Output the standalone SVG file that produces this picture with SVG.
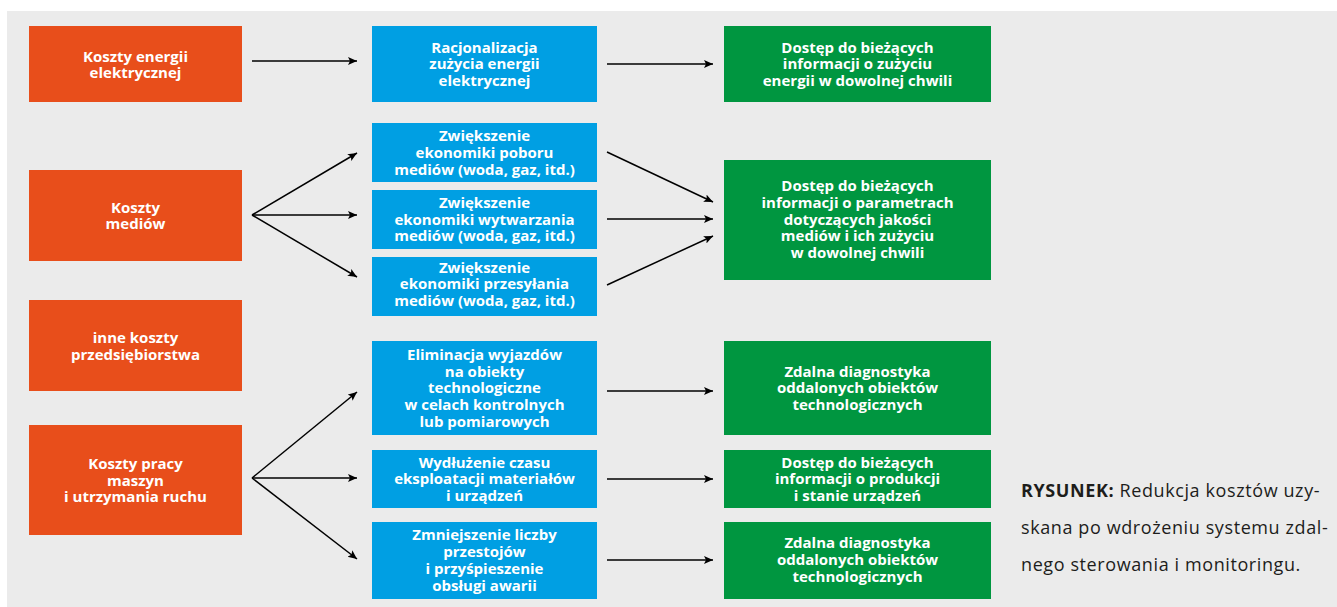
<svg xmlns="http://www.w3.org/2000/svg" width="1337" height="607" viewBox="0 0 1337 607">
<defs>
<marker id="arr" markerUnits="userSpaceOnUse" markerWidth="10" markerHeight="9" refX="9" refY="4" orient="auto">
<path d="M0,0 L9,4 L0,8 L2,4 z" fill="#000"/>
</marker>
<style>
.o{fill:#e84e1b}
.b{fill:#009fe3}
.g{fill:#009640}
.t{font-family:"Open Sans","Liberation Sans",sans-serif;font-weight:bold;font-size:15px;fill:#fff;text-anchor:middle}
.c line{stroke:#000;stroke-width:1.5;marker-end:url(#arr)}
.cap{font-family:"Open Sans","Liberation Sans",sans-serif;font-size:18px;letter-spacing:0.6px;fill:#1d1d1b}
</style>
</defs>
<rect x="7" y="11" width="1330" height="596" fill="#ebebeb"/>

<g id="o1"><rect class="o" x="29" y="26" width="213" height="76"/>
<text class="t"><tspan x="135.5" y="61.5">Koszty energii</tspan><tspan x="135.5" y="78.3">elektrycznej</tspan></text></g>
<g id="o2"><rect class="o" x="29" y="170" width="213" height="91"/>
<text class="t"><tspan x="135.5" y="212.5">Koszty</tspan><tspan x="135.5" y="229.3">mediów</tspan></text></g>
<g id="o3"><rect class="o" x="29" y="300" width="213" height="91"/>
<text class="t"><tspan x="135.5" y="343">inne koszty</tspan><tspan x="135.5" y="359.8">przedsiębiorstwa</tspan></text></g>
<g id="o4"><rect class="o" x="29" y="425" width="213" height="110"/>
<text class="t"><tspan x="135.5" y="468.7">Koszty pracy</tspan><tspan x="135.5" y="485.5">maszyn</tspan><tspan x="135.5" y="502.3">i utrzymania ruchu</tspan></text></g>

<g id="b1"><rect class="b" x="372" y="26" width="225" height="76"/>
<text class="t"><tspan x="484.5" y="52.5">Racjonalizacja</tspan><tspan x="484.5" y="69.3">zużycia energii</tspan><tspan x="484.5" y="86.1">elektrycznej</tspan></text></g>
<g id="b2"><rect class="b" x="372" y="123" width="225" height="59"/>
<text class="t"><tspan x="484.5" y="141.2">Zwiększenie</tspan><tspan x="484.5" y="158">ekonomiki poboru</tspan><tspan x="484.5" y="174.8">mediów (woda, gaz, itd.)</tspan></text></g>
<g id="b3"><rect class="b" x="372" y="190" width="225" height="59"/>
<text class="t"><tspan x="484.5" y="207.8">Zwiększenie</tspan><tspan x="484.5" y="224.6">ekonomiki wytwarzania</tspan><tspan x="484.5" y="241.4">mediów (woda, gaz, itd.)</tspan></text></g>
<g id="b4"><rect class="b" x="372" y="257" width="225" height="59"/>
<text class="t"><tspan x="484.5" y="272.5">Zwiększenie</tspan><tspan x="484.5" y="289.3">ekonomiki przesyłania</tspan><tspan x="484.5" y="306.1">mediów (woda, gaz, itd.)</tspan></text></g>
<g id="b5"><rect class="b" x="372" y="341" width="225" height="94"/>
<text class="t"><tspan x="484.5" y="359.7">Eliminacja wyjazdów</tspan><tspan x="484.5" y="376.5">na obiekty</tspan><tspan x="484.5" y="393.3">technologiczne</tspan><tspan x="484.5" y="410.1">w celach kontrolnych</tspan><tspan x="484.5" y="426.9">lub pomiarowych</tspan></text></g>
<g id="b6"><rect class="b" x="372" y="450" width="225" height="58"/>
<text class="t"><tspan x="484.5" y="467.5">Wydłużenie czasu</tspan><tspan x="484.5" y="484.3">eksploatacji materiałów</tspan><tspan x="484.5" y="501.1">i urządzeń</tspan></text></g>
<g id="b7"><rect class="b" x="372" y="522" width="225" height="77"/>
<text class="t"><tspan x="484.5" y="540.1">Zmniejszenie liczby</tspan><tspan x="484.5" y="556.9">przestojów</tspan><tspan x="484.5" y="573.7">i przyśpieszenie</tspan><tspan x="484.5" y="590.5">obsługi awarii</tspan></text></g>

<g id="g1"><rect class="g" x="724" y="26" width="267" height="76"/>
<text class="t"><tspan x="857.5" y="52.5">Dostęp do bieżących</tspan><tspan x="857.5" y="69.3">informacji o zużyciu</tspan><tspan x="857.5" y="86.1">energii w dowolnej chwili</tspan></text></g>
<g id="g2"><rect class="g" x="724" y="160" width="267" height="120"/>
<text class="t"><tspan x="857.5" y="190.9">Dostęp do bieżących</tspan><tspan x="857.5" y="207.7">informacji o parametrach</tspan><tspan x="857.5" y="224.5">dotyczących jakości</tspan><tspan x="857.5" y="241.3">mediów i ich zużyciu</tspan><tspan x="857.5" y="258.1">w dowolnej chwili</tspan></text></g>
<g id="g3"><rect class="g" x="724" y="341" width="267" height="94"/>
<text class="t"><tspan x="857.5" y="376.5">Zdalna diagnostyka</tspan><tspan x="857.5" y="393.3">oddalonych obiektów</tspan><tspan x="857.5" y="410.1">technologicznych</tspan></text></g>
<g id="g4"><rect class="g" x="724" y="450" width="267" height="58"/>
<text class="t"><tspan x="857.5" y="467.5">Dostęp do bieżących</tspan><tspan x="857.5" y="484.3">informacji o produkcji</tspan><tspan x="857.5" y="501.1">i stanie urządzeń</tspan></text></g>
<g id="g5"><rect class="g" x="724" y="522" width="267" height="77"/>
<text class="t"><tspan x="857.5" y="548.2">Zdalna diagnostyka</tspan><tspan x="857.5" y="565">oddalonych obiektów</tspan><tspan x="857.5" y="581.8">technologicznych</tspan></text></g>

<g id="connectors" class="c">
<line x1="252" y1="61" x2="357" y2="61"/>
<line x1="252" y1="215" x2="357" y2="153"/>
<line x1="252" y1="215" x2="357" y2="215"/>
<line x1="252" y1="215" x2="357" y2="277"/>
<line x1="252" y1="478" x2="357" y2="392"/>
<line x1="252" y1="478" x2="357" y2="478"/>
<line x1="252" y1="478" x2="357" y2="559"/>
<line x1="607" y1="64" x2="713" y2="64"/>
<line x1="607" y1="152" x2="713" y2="202"/>
<line x1="607" y1="219" x2="713" y2="219"/>
<line x1="607" y1="285" x2="713" y2="236"/>
<line x1="607" y1="391" x2="713" y2="391"/>
<line x1="607" y1="479" x2="713" y2="479"/>
<line x1="607" y1="560" x2="713" y2="560"/>
</g>

<g id="caption">
<text class="cap" x="1021" y="496.5"><tspan font-weight="bold">RYSUNEK:</tspan> Redukcja kosztów uzy-</text>
<text class="cap" x="1021" y="533.5">skana po wdrożeniu systemu zdal-</text>
<text class="cap" x="1021" y="571">nego sterowania i monitoringu.</text>
</g>
</svg>
